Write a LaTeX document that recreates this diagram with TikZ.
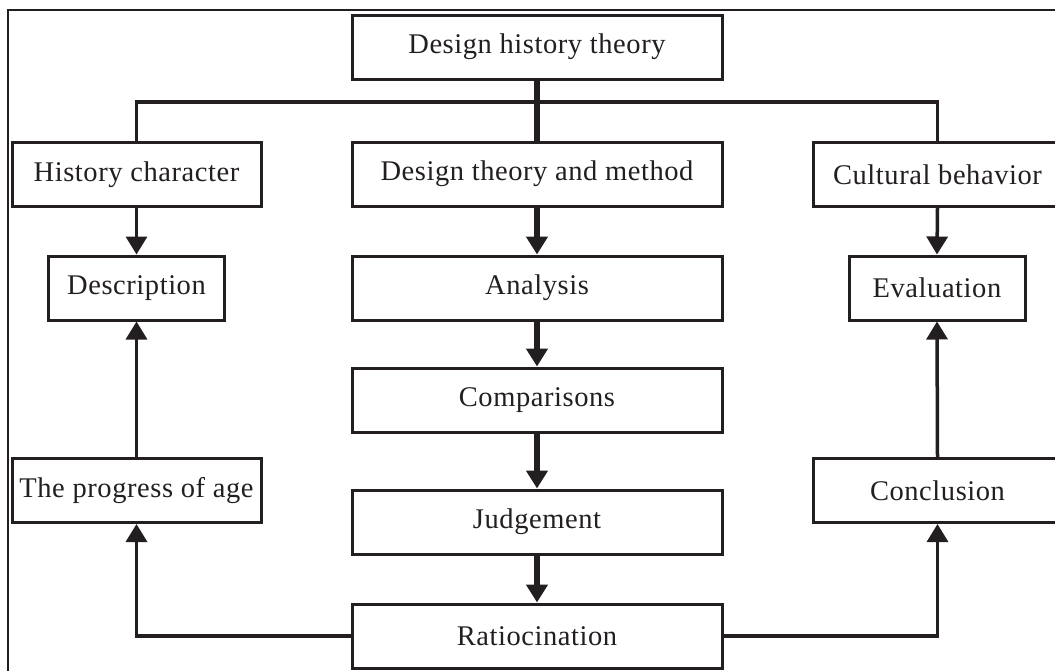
\documentclass[tikz,border=0pt]{standalone}
\usepackage{fontspec}
\setmainfont{Liberation Serif}[LetterSpace=2]
\usetikzlibrary{arrows.meta}
\definecolor{ink}{RGB}{35,31,32}
\begin{document}
\begin{tikzpicture}[x=1pt,y=-1pt,
  box/.style={draw=ink,line width=3pt,fill=white,text=ink,inner sep=0pt,
    minimum height=64pt,font=\fontsize{28.5}{30}\selectfont},
  wide/.style={box,minimum width=370pt},
  side/.style={box,minimum width=249pt},
  small/.style={box,minimum width=176pt},
  thickconn/.style={draw=ink,line width=6pt},
  thinconn/.style={draw=ink,line width=3.5pt},
  tip/.style={-{Triangle[length=18pt,width=21pt]}}
]
\path[use as bounding box] (0,0) rectangle (1055,670);
\clip (0,0) rectangle (1055,670);
% frame
\draw[ink,line width=2pt] (8,700) -- (8,10) -- (1100,10);

% nodes
\node[wide]  (top)  at (537,47)    {Design history theory};
\node[side]  (hc)   at (136.5,174.5) {History character};
\node[wide]  (dtm)  at (537,174)   {Design theory and method};
\node[side]  (cb)   at (937.5,174.5) {Cultural behavior};
\node[small] (desc) at (136.5,288) {Description};
\node[wide]  (ana)  at (537,288)   {Analysis};
\node[small] (eval) at (937,288)   {Evaluation};
\node[wide]  (comp) at (537,400)   {Comparisons};
\node[side]  (prog) at (136.5,490.5) {The progress of age};
\node[wide]  (judg) at (537,522)   {Judgement};
\node[side]  (concl) at (937.5,490.5) {Conclusion};
\node[wide]  (rat)  at (537,636)   {Ratiocination};
\coordinate (j) at (537,102);

% connectors
\draw[thickconn] (top.south) -- (dtm.north);
\draw[thinconn] (hc.north) |- (j) -| (cb.north);
\draw[thickconn,tip] (dtm.south) -- (ana.north);
\draw[thickconn,tip] (ana.south) -- (comp.north);
\draw[thickconn,tip] (comp.south) -- (judg.north);
\draw[thickconn,tip] (judg.south) -- (rat.north);
\draw[thinconn,tip] (hc.south) -- (desc.north);
\draw[thinconn,tip] (cb.south) -- (eval.north);
\draw[thinconn,tip] (prog.north) -- (desc.south);
\draw[thinconn,tip] (concl.north) -- (eval.south);
\draw[thinconn,tip] (rat.west) -| (prog.south);
\draw[thinconn,tip] (rat.east) -| (concl.south);
\end{tikzpicture}
\end{document}
